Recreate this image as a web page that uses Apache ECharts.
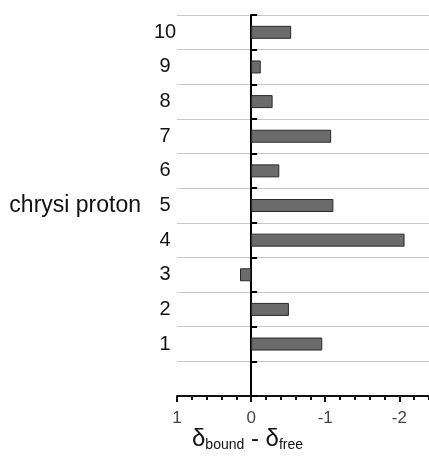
<!DOCTYPE html>
<html>
<head>
<meta charset="utf-8">
<script src="https://cdn.jsdelivr.net/npm/echarts@6/dist/echarts.min.js"></script>
<style>html,body{margin:0;padding:0;background:#fff}#c{width:429px;height:462px}</style>
</head>
<body>
<div id="c"></div>
<script>
var categories = ['', '1', '2', '3', '4', '5', '6', '7', '8', '9', '10'];
var shiftValues = [null, -0.96, -0.51, 0.15, -2.07, -1.11, -0.38, -1.08, -0.29, -0.13, -0.54];
var xMajorTicks = [1, 0, -1, -2];
var xMin = -2.4, xMax = 1, xMinorStep = 0.2;
var yAxisTitle = 'chrysi proton';
var FONT = '"Liberation Sans", Arial, sans-serif';

var chart = echarts.init(document.getElementById('c'), null, {renderer: 'canvas'});
chart.setOption({
  animation: false,
  backgroundColor: '#fff',
  grid: {left: 177, right: 0, top: 15, bottom: 66, containLabel: false, outerBoundsMode: 'none'},
  xAxis: [{
    type: 'value', inverse: true, min: xMin, max: xMax, position: 'bottom', offset: 0,
    axisLine: {show: true, onZero: false, lineStyle: {color: '#111', width: 2}},
    axisTick: {show: true, customValues: xMajorTicks, length: 6, lineStyle: {color: '#111', width: 2}},
    axisLabel: {show: true, customValues: xMajorTicks, margin: 14, color: '#444', fontSize: 17, fontFamily: FONT},
    splitLine: {show: false}
  }, {
    type: 'value', inverse: true, min: xMin, max: xMax, interval: xMinorStep, position: 'bottom', offset: 0,
    axisLine: {show: false, onZero: false},
    axisTick: {show: true, length: 4, lineStyle: {color: '#111', width: 2}},
    axisLabel: {show: false},
    splitLine: {show: false}
  }],
  yAxis: [{
    type: 'category', data: categories, position: 'left', offset: 0,
    axisLine: {show: false, onZero: false},
    axisTick: {show: false},
    axisLabel: {show: true, align: 'center', margin: 12, color: '#111', fontSize: 20, fontFamily: FONT},
    splitLine: {show: true, lineStyle: {color: '#c8c8c8', width: 1}},
    name: yAxisTitle, nameLocation: 'middle', nameRotate: 0, nameGap: 36,
    nameTextStyle: {color: '#111', fontSize: 23, fontFamily: FONT}
  }, {
    type: 'category', data: categories, position: 'left', offset: 0,
    axisLine: {show: true, onZero: true, onZeroAxisIndex: 0, lineStyle: {color: '#000', width: 2}},
    axisTick: {show: true, inside: true, length: 6, lineStyle: {color: '#000', width: 2}},
    axisLabel: {show: false},
    splitLine: {show: false}
  }],
  graphic: [{
    type: 'text', left: 192, top: 427,
    style: {
      text: '{d|δ}{s|bound}{d| - δ}{s|free}',
      rich: {
        d: {fontSize: 24, fontFamily: FONT, fill: '#111', color: '#111'},
        s: {fontSize: 14, fontFamily: FONT, fill: '#111', color: '#111', padding: [13, 0, 0, 0]}
      }
    }
  }],
  series: [{
    type: 'bar', xAxisIndex: 0, yAxisIndex: 0, data: shiftValues, barWidth: 13,
    itemStyle: {color: '#6b6b6b', borderColor: '#2a2a2a', borderWidth: 1}
  }]
});
</script>
</body>
</html>
